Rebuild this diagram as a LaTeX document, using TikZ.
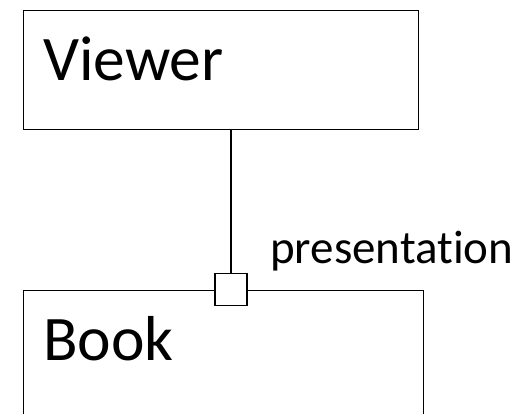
\documentclass[tikz,border=0pt]{standalone}
\usepackage{fontspec}
\setmainfont[Ligatures=NoCommon]{Carlito}
\begin{document}
\begin{tikzpicture}[x=1pt,y=1pt,
  cls/.style={draw, line width=1.2pt, rectangle, inner sep=0pt, anchor=north west},
  port/.style={draw, fill=white, line width=1.2pt, rectangle, minimum size=32pt, inner sep=0pt},
  big/.style={font=\fontsize{63.5}{70}\selectfont, anchor=base west, inner sep=0pt},
  lbl/.style={font=\fontsize{47}{52}\selectfont, anchor=base west, inner sep=0pt},
  conn/.style={draw, line width=1.2pt}]
\useasboundingbox (0,0) rectangle (530,-414);
\node[cls, minimum width=395pt, minimum height=119pt] (viewer) at (23,-10) {};
\node[cls, minimum width=400pt, minimum height=150pt] (book) at (23,-289.5) {};
\node[big] (viewertxt) at (43,-81) {Viewer};
\node[big] (booktxt) at (43,-360) {Book};
\node[port] (port) at (231,-289.5) {};
\path[conn] (viewer.south -| port.north) -- (port.north);
\node[lbl] (presentation) at (270,-263) {presentation};
\end{tikzpicture}
\end{document}
